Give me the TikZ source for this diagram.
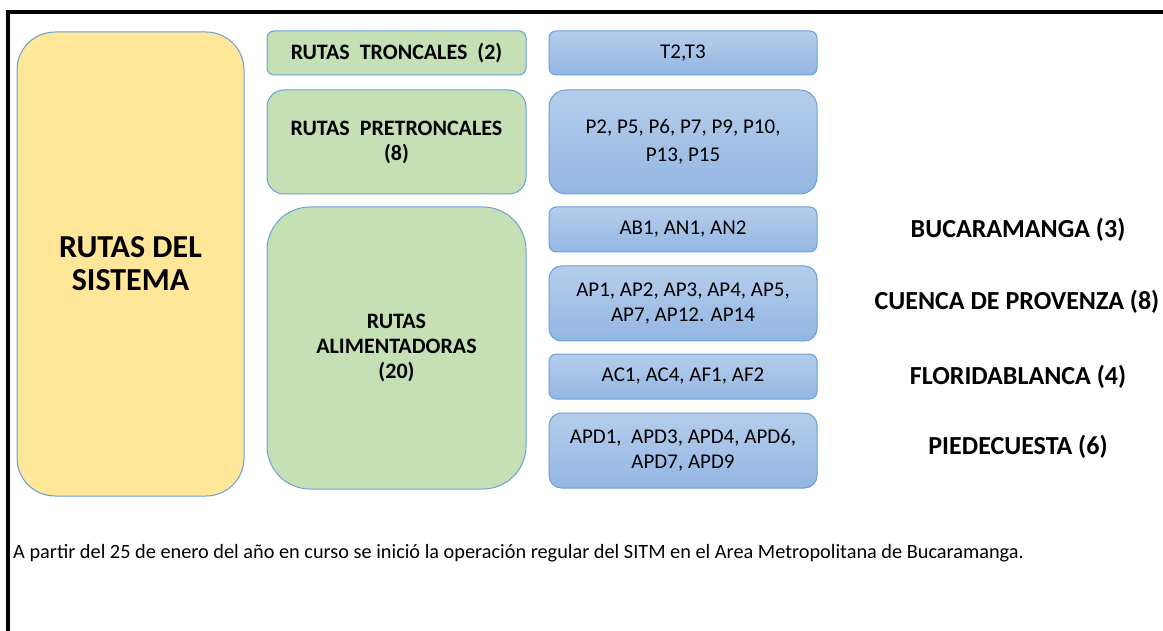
\documentclass[tikz,border=0pt]{standalone}
\usepackage{fontspec}
\setmainfont{Carlito}
\usepackage{tikz}
\usetikzlibrary{positioning}

\definecolor{borde}{HTML}{6A9FD8}
\definecolor{amarillo}{HTML}{FFE699}
\definecolor{verde}{HTML}{C5E0B4}
\definecolor{azularriba}{HTML}{B5CDEC}
\definecolor{azulabajo}{HTML}{93B6E2}

\begin{document}
\begin{tikzpicture}[
  x=1pt, y=-1pt,
  caja/.style={
    draw=borde,
    line width=1pt,
    inner sep=0pt,
    align=center
    },
  grupo/.style={
    caja,
    fill=verde,
    minimum width=259pt,
    font=\bfseries\fontsize{22}{25}\selectfont
    },
  lista/.style={
    caja,
    top color=azularriba,
    bottom color=azulabajo,
    minimum width=268pt,
    font=\fontsize{21}{25}\selectfont
    },
  zona/.style={
    font=\bfseries\fontsize{26}{30}\selectfont
    }
]

\useasboundingbox (0,0) rectangle (1163,631);
\draw[line width=4pt] (8,631) -- (8,12) -- (1163,12);

% columna izquierda
\node [caja, fill=amarillo, minimum width=227pt, minimum height=464pt,
  rounded corners=38pt, font=\bfseries\fontsize{32}{33}\selectfont]
  (sistema) at (130.5,264) {RUTAS DEL\\SISTEMA};

% tipos de ruta
\node [grupo, minimum height=44pt, rounded corners=7pt] (troncales) at (396.5,53)
  {RUTAS~ TRONCALES~ (2)};
\node [grupo, minimum height=104pt, rounded corners=17pt] (pretroncales) at (396.5,142)
  {RUTAS~ PRETRONCALES\\(8)};
\node [grupo, minimum height=282pt, rounded corners=43pt] (alimentadoras) at (396.5,348)
  {RUTAS\\ALIMENTADORAS\\(20)};

% listas de rutas
\node [lista, minimum height=44pt, rounded corners=7pt] (t) at (683,53) {T2,T3};
\node [lista, minimum height=104pt, rounded corners=17pt,
  font=\fontsize{21}{28}\selectfont] (p) at (683,142)
  {P2, P5, P6, P7, P9, P10,\\P13, P15};
\node [lista, minimum height=45pt, rounded corners=7.5pt] (ab) at (683,229.5)
  {AB1, AN1, AN2};
\node [lista, minimum height=75pt, rounded corners=12.5pt] (ap) at (683,303.5)
  {AP1, AP2, AP3, AP4, AP5,\\AP7, AP12. AP14};
\node [lista, minimum height=45pt, rounded corners=7.5pt] (ac) at (683,376.5)
  {AC1, AC4, AF1, AF2};
\node [lista, minimum height=75pt, rounded corners=12.5pt] (apd) at (683,450.5)
  {APD1, ~APD3, APD4, APD6,\\APD7, APD9};

% municipios
\node [zona] (bucaramanga) at (1018,229.5) {BUCARAMANGA (3)};
\node [zona] (cuenca) at (1017,302) {CUENCA DE PROVENZA (8)};
\node [zona] (floridablanca) at (1018,376.5) {FLORIDABLANCA (4)};
\node [zona] (piedecuesta) at (1018,447) {PIEDECUESTA (6)};

\node [anchor=base west, inner sep=0pt, font=\fontsize{20.3}{24}\selectfont] (nota) at (13,558)
  {A partir del 25 de enero del año en curso se inició la operación regular del SITM en el Area Metropolitana de Bucaramanga.};
\end{tikzpicture}
\end{document}
